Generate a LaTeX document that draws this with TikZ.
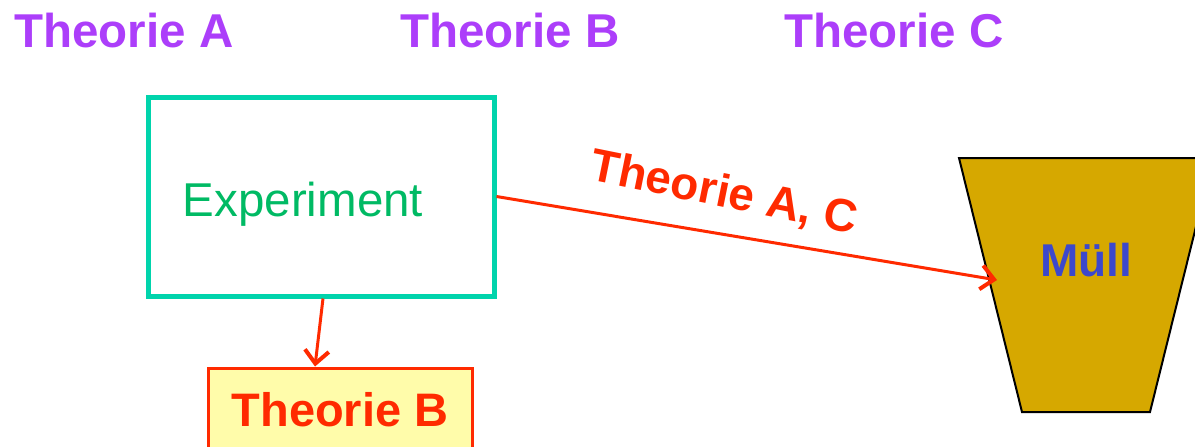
\documentclass[tikz,border=0pt]{standalone}
\usepackage{fontspec}
\setmainfont{Liberation Sans}
\usepackage{tikz}
\usetikzlibrary{shapes.geometric, arrows.meta, positioning, calc}
\definecolor{mypurple}{RGB}{172,62,250}
\definecolor{myteal}{RGB}{0,212,172}
\definecolor{mygreen}{RGB}{0,186,100}
\definecolor{myred}{RGB}{255,42,0}
\definecolor{hdryellow}{RGB}{255,252,170}
\definecolor{mygold}{RGB}{214,168,0}
\definecolor{myblue}{RGB}{60,72,204}
\tikzset{
  title/.style={font=\fontsize{47.5}{56}\selectfont\bfseries, color=mypurple},
  expbox/.style={rectangle, draw=myteal, line width=5pt, fill=white,
    minimum width=346pt, minimum height=199pt, inner sep=0pt,
    font=\fontsize{47.5}{56}\selectfont, text=mygreen},
  theobox/.style={rectangle, draw=myred, fill=hdryellow, line width=3pt,
    minimum width=264pt, minimum height=84pt, inner sep=0pt,
    font=\fontsize{47}{56}\selectfont\bfseries, text=myred},
  binshape/.style={draw=black, fill=mygold, line width=2pt},
  redarrow/.style={-{Straight Barb[length=13pt, width=24pt, line width=4pt]}, line width=3pt, color=myred}
}

\begin{document}
\begin{tikzpicture}[x=1pt, y=-1pt]
  \useasboundingbox (0,0) rectangle (1195,447);

  % Titles
  \node[title] (tA) at (124, 31) {Theorie A};
  \node[title] (tB) at (510, 31) {Theorie B};
  \node[title] (tC) at (894, 31) {Theorie C};

  % Experiment and result
  \node[expbox] (exp) at (321, 196.5) {\hspace*{-36pt}\raisebox{-8pt}[\height][\depth]{Experiment}};
  \node[theobox] (theoB) at (340, 410) {Theorie B};

  % Waste bin
  \draw[binshape] (959, 158) -- (1213, 158) -- (1150, 412) -- (1022, 412) -- cycle;
  \node[font=\fontsize{46}{55}\selectfont\bfseries, text=myblue] (muell) at (1086, 260) {Müll};
  \coordinate (binin) at (997, 280);

  % Connections
  \draw[redarrow] ([xshift=2pt]exp.south) -- ([xshift=-25pt]theoB.north);
  \draw[redarrow] (exp.east) -- node[sloped, above=15pt, pos=0.44, rotate=-2,
    font=\fontsize{46}{55}\selectfont\bfseries, text=myred] (lbl) {Theorie A, C} (binin);
\end{tikzpicture}
\end{document}
